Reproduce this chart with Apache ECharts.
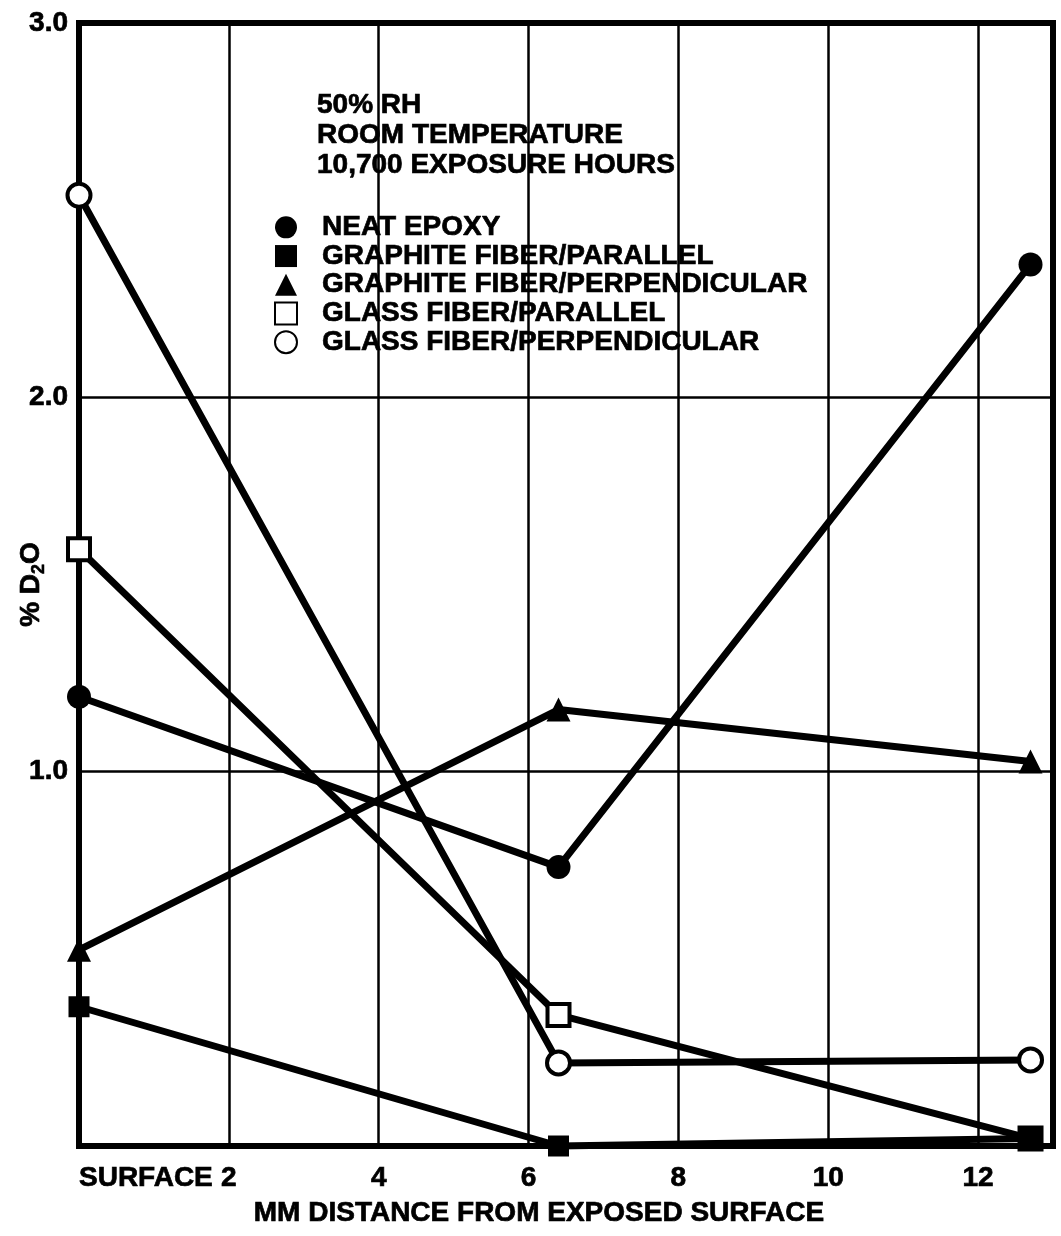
<!DOCTYPE html>
<html>
<head>
<meta charset="utf-8">
<script src="https://cdn.jsdelivr.net/npm/echarts@6/dist/echarts.min.js"></script>
<style>
  html, body { margin: 0; padding: 0; background: #fff; }
  #chart { width: 1061px; height: 1236px; }
</style>
</head>
<body>
<div id="chart"></div>
<script>
// Distance from the exposed surface (mm) at which each sample was sectioned
const distances = [0, 6.4, 12.7];

// % D2O absorbed at each depth
const neatEpoxy = [1.2, 0.745, 2.355];
const graphiteParallel = [0.372, 0, 0.02];
const graphitePerpendicular = [0.524, 1.166, 1.027];
const glassParallel = [1.594, 0.35, 0.02];
const glassPerpendicular = [2.54, 0.222, 0.23];

const seriesNames = [
  'NEAT EPOXY',
  'GRAPHITE FIBER/PARALLEL',
  'GRAPHITE FIBER/PERPENDICULAR',
  'GLASS FIBER/PARALLEL',
  'GLASS FIBER/PERPENDICULAR'
];

const conditionsText = ['50% RH', 'ROOM TEMPERATURE', '10,700 EXPOSURE HOURS'];
const xAxisTitle = 'MM DISTANCE FROM EXPOSED SURFACE';
const surfaceLabel = 'SURFACE';

const FONT = '"Liberation Sans", Arial, sans-serif';
const INK = '#000';

// heavy bold lettering
const boldText = {
  fontFamily: FONT,
  fontWeight: 'bold',
  fontSize: 28,
  color: INK,
  textBorderColor: INK,
  textBorderWidth: 0.7
};

function pairs(ys) {
  return distances.map((x, i) => [x, ys[i]]);
}

function lineSeries(name, ys, symbol, size, hollow, z) {
  return {
    name: name,
    type: 'line',
    data: pairs(ys),
    symbol: symbol,
    symbolSize: size,
    showAllSymbol: true,
    clip: false,
    z: z,
    lineStyle: { color: INK, width: 7 },
    itemStyle: hollow
      ? { color: '#fff', borderColor: INK, borderWidth: 4 }
      : { color: INK, borderColor: INK, borderWidth: 0 },
    emphasis: { disabled: true }
  };
}

const chart = echarts.init(document.getElementById('chart'), null, { renderer: 'canvas' });

chart.setOption({
  backgroundColor: '#fff',
  animation: false,
  textStyle: { fontFamily: FONT },
  title: {
    text: conditionsText.join('\n'),
    left: 312,
    top: 85,
    textStyle: Object.assign({}, boldText, { lineHeight: 30 })
  },
  legend: {
    orient: 'vertical',
    left: 269,
    top: 208,
    itemGap: 0,
    itemWidth: 22,
    itemHeight: 22,
    selectedMode: false,
    data: [
      { name: seriesNames[0], icon: 'circle' },
      { name: seriesNames[1], icon: 'rect' },
      { name: seriesNames[2], icon: 'triangle' },
      { name: seriesNames[3], icon: 'rect' },
      { name: seriesNames[4], icon: 'circle' }
    ],
    textStyle: Object.assign({}, boldText, { lineHeight: 28, padding: [0, 0, 0, 20] })
  },
  grid: {
    left: 79,
    right: 8,
    top: 23,
    bottom: 90,
    outerBoundsMode: 'none',
    containLabel: false,
    show: true,
    borderColor: INK,
    borderWidth: 6,
    backgroundColor: 'transparent'
  },
  xAxis: [
    {
      type: 'value',
      min: 0,
      max: 13,
      interval: 2,
      position: 'bottom',
      name: xAxisTitle,
      nameLocation: 'middle',
      nameGap: 53,
      nameMoveOverlap: false,
      nameTextStyle: Object.assign({}, boldText, { padding: [0, 54, 0, 0] }),
      axisLine: { show: true, lineStyle: { color: INK, width: 6 } },
      axisTick: { show: false },
      splitLine: { show: true, lineStyle: { color: INK, width: 2.5 } },
      axisLabel: Object.assign({}, boldText, {
        margin: 18,
        showMaxLabel: false,
        formatter: v => (v === 0 || v === 13 ? '' : String(v))
      })
    },
    {
      // Second bottom axis carries only the left-aligned "SURFACE" label at 0
      type: 'value',
      min: 0,
      max: 13,
      interval: 2,
      position: 'bottom',
      axisLine: { show: false },
      axisTick: { show: false },
      splitLine: { show: false },
      axisLabel: Object.assign({}, boldText, {
        margin: 18,
        align: 'left',
        formatter: v => (v === 0 ? surfaceLabel : '')
      })
    }
  ],
  yAxis: {
    type: 'value',
    min: 0,
    max: 3,
    interval: 1,
    name: '{t|% D}{s|2}{t|O}',
    nameLocation: 'middle',
    nameRotate: 90,
    nameGap: 31,
    nameMoveOverlap: false,
    nameTextStyle: {
      color: INK,
      rich: {
        t: Object.assign({}, boldText, { lineHeight: 34, verticalAlign: 'middle' }),
        s: Object.assign({}, boldText, { fontSize: 18, lineHeight: 34, verticalAlign: 'bottom', textBorderWidth: 0.5 })
      }
    },
    axisLine: { show: true, lineStyle: { color: INK, width: 6 } },
    axisTick: { show: false },
    splitLine: { show: true, lineStyle: { color: INK, width: 2.5 } },
    axisLabel: Object.assign({}, boldText, {
      margin: 11,
      formatter: v => (v === 0 ? '' : v.toFixed(1))
    })
  },
  series: [
    lineSeries(seriesNames[0], neatEpoxy, 'circle', 24, false, 5),
    lineSeries(seriesNames[1], graphiteParallel, 'rect', 21, false, 7),
    lineSeries(seriesNames[2], graphitePerpendicular, 'triangle', 24, false, 5),
    lineSeries(seriesNames[3], glassParallel, 'rect', 22, true, 6),
    lineSeries(seriesNames[4], glassPerpendicular, 'circle', 23, true, 5)
  ]
});
</script>
</body>
</html>
